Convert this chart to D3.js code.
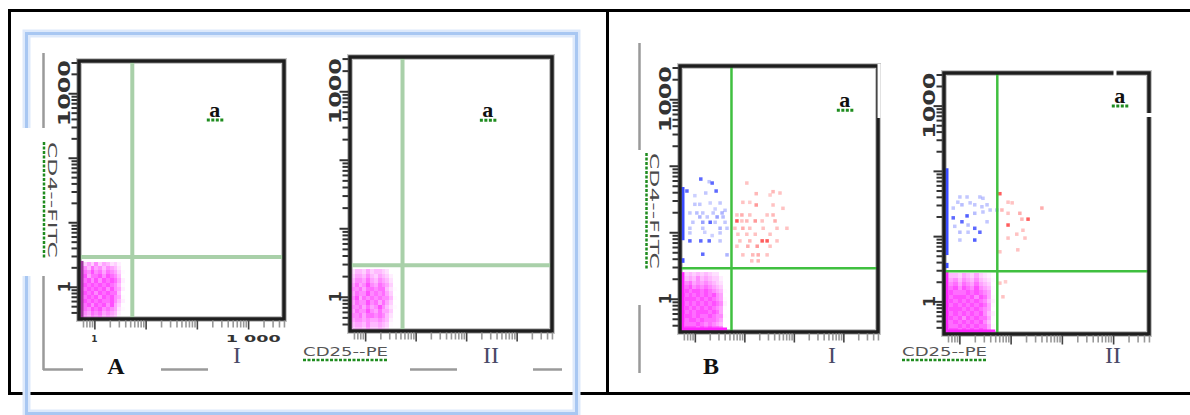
<!DOCTYPE html>
<html>
<head>
<meta charset="utf-8">
<script src="https://cdn.jsdelivr.net/npm/d3@7"></script>
<style>
  body { margin: 0; background: #fff; }
  svg { display: block; }
</style>
</head>
<body>
<div id="chart"></div>
<script>
// ---------- data (values are log10 fluorescence intensity) ----------
const panelNames = ["A", "B"];
const plotNumerals = ["I", "II", "I", "II"];
const quadrantTag = "a";
const xAxisTitle = "CD25--PE";
const yAxisTitle = "CD4--FITC";
const yTickText = [[0, "1"], [3, "1000"]];
const xTickText = [[0, "1"], [3.1, "1 000"]];
const decades = [-1, 0, 1, 2, 3];
const minorSteps = [1, 2, 3, 4, 5, 6, 7, 8, 9];
const xDomain = [-0.3, 3.7];
const yDomain = [-0.5, 3.5];
const gateX = 0.74, gateY = 0.46;

// double-negative cloud, density per cell (0-9), rows top -> bottom
const cloudExtents = [
  [[-0.30, 0.60], [-0.50, 0.38]],
  [[-0.28, 0.63], [-0.50, 0.40]],
  [[-0.28, 0.65], [-0.48, 0.40]],
  [[-0.28, 0.70], [-0.48, 0.43]]
];
const cloudAI = [
  "346474653420", "575867576530", "687978687641", "796889798750",
  "889797989862", "798989898751", "889898979762", "798979898850",
  "889897989761", "798989889752", "689798979640", "787989787631",
  "576878676520", "465767565410"
];
const cloudAII = [
  "355464554300", "466575465420", "577686576530", "686797687640",
  "778688788531", "687797878640", "796878787751", "687797868640",
  "778686797531", "687797686640", "778688787530", "677676676520",
  "566575565410", "455464454300"
];
const cloudBI = [
  "245454543300", "356575654420", "578676765430", "689787876540",
  "798998987651", "889898989760", "799989898761", "889898989872",
  "798989898761", "889899989860", "799898898771", "789989888760",
  "688898787650", "799989898870"
];
const cloudBII = [
  "355465464320", "467576575431", "578687686540", "689798797651",
  "798889898760", "889998979861", "798989898752", "889898989861",
  "799989898760", "889898989752", "798979898861", "689898989750",
  "788989898861", "699898989860"
];

// events piled on the axes: [from, to]
const leftPileMagenta = [[-0.5, 0.40], null, [-0.5, 0.40], [-0.5, 0.45]];
const bottomPileMagenta = [null, null, [-0.3, 0.65], [-0.3, 0.70]];
const leftPileBlue = [[], [], [[0.88, 1.68], [0.54, 0.61]], [[0.71, 2.04], [0.51, 0.59]]];

// CD4+ CD25- (blue) and CD4+ CD25+ (red) events: [x, y, weight]
const blueBI = [
  [0.12, 1.80, 0.8], [-0.16, 1.62, 0.8], [0.29, 1.76, 0.3], [0.35, 1.74, 0.8], [0.22, 1.59, 0.3],
  [0.43, 1.62, 0.8], [0.00, 1.42, 0.3], [0.10, 1.42, 0.3], [0.31, 1.44, 0.25], [0.51, 1.44, 0.3],
  [-0.10, 1.29, 0.3], [0.04, 1.29, 0.35], [0.16, 1.29, 0.3], [0.37, 1.29, 0.3], [0.55, 1.29, 0.4],
  [0.10, 1.23, 0.4], [0.25, 1.23, 0.3], [0.45, 1.23, 0.5], [0.57, 1.23, 0.35], [-0.04, 1.15, 0.3],
  [0.16, 1.15, 0.5], [0.31, 1.15, 0.8], [0.41, 1.15, 0.3], [0.61, 1.15, 0.3], [-0.10, 1.06, 0.3],
  [0.16, 1.06, 0.3], [0.51, 1.06, 0.4], [0.65, 1.06, 0.3], [-0.10, 0.99, 0.3], [0.51, 0.99, 0.3],
  [-0.10, 0.87, 0.8], [0.12, 0.87, 0.8], [0.29, 0.87, 0.8], [0.51, 0.87, 0.3], [0.16, 0.67, 0.8],
  [0.65, 0.66, 0.4], [0.00, 1.55, 0.25], [0.41, 1.35, 0.25], [0.61, 1.33, 0.3], [0.20, 1.00, 0.25],
  [0.35, 0.95, 0.25]
];
const redBI = [
  [1.05, 1.74, 0.3], [1.24, 1.58, 0.35], [1.58, 1.61, 0.35], [1.52, 1.56, 0.25], [1.72, 1.59, 0.3],
  [0.97, 1.45, 0.3], [1.11, 1.45, 0.25], [1.24, 1.41, 0.5], [1.58, 1.41, 0.3], [1.78, 1.36, 0.3],
  [0.85, 1.26, 0.3], [0.95, 1.26, 0.4], [1.11, 1.26, 0.3], [1.46, 1.26, 0.3], [1.58, 1.26, 0.35],
  [0.85, 1.17, 0.8], [0.95, 1.17, 0.3], [1.05, 1.17, 0.35], [1.22, 1.17, 0.5], [1.36, 1.17, 0.3],
  [1.62, 1.17, 0.4], [0.81, 1.06, 0.3], [0.97, 1.06, 0.4], [1.11, 1.06, 0.3], [1.38, 1.06, 0.3],
  [1.66, 1.06, 0.3], [1.86, 1.06, 0.3], [0.87, 0.97, 0.3], [1.05, 0.97, 0.3], [1.22, 0.97, 0.3],
  [1.52, 0.97, 0.3], [0.91, 0.87, 0.3], [1.11, 0.87, 0.35], [1.36, 0.87, 0.8], [1.46, 0.87, 0.8],
  [1.66, 0.87, 0.3], [0.85, 0.79, 0.3], [1.07, 0.79, 0.4], [1.26, 0.79, 0.5], [1.52, 0.79, 0.3],
  [0.97, 0.66, 0.3], [1.17, 0.66, 0.35], [1.28, 0.66, 0.4], [1.46, 0.66, 0.3], [1.15, 0.57, 0.3],
  [1.28, 0.57, 0.35]
];
const blueBII = [
  [0.01, 1.60, 0.3], [0.15, 1.60, 0.3], [0.40, 1.60, 0.3], [0.46, 1.58, 0.3], [-0.03, 1.52, 0.3],
  [0.05, 1.48, 0.35], [0.21, 1.51, 0.3], [0.30, 1.48, 0.3], [0.44, 1.45, 0.3], [0.54, 1.48, 0.3],
  [0.60, 1.40, 0.3], [0.73, 1.40, 0.3], [0.30, 1.35, 0.35], [0.46, 1.37, 0.3], [-0.12, 1.43, 0.3],
  [0.15, 1.31, 0.85], [-0.12, 1.28, 0.8], [0.05, 1.22, 0.8], [0.17, 1.17, 0.35], [0.30, 1.12, 0.8],
  [0.54, 1.22, 0.3], [0.01, 1.06, 0.35], [0.17, 1.06, 0.3], [0.40, 1.06, 0.8], [0.01, 0.94, 0.3],
  [0.30, 0.94, 0.85], [-0.09, 1.15, 0.3]
];
const redBII = [
  [0.79, 1.65, 0.8], [0.95, 1.52, 0.3], [1.03, 1.51, 0.3], [0.83, 1.40, 0.35], [0.95, 1.35, 0.3],
  [1.18, 1.35, 0.4], [1.22, 1.26, 0.35], [1.34, 1.26, 0.8], [0.95, 1.17, 0.8], [1.61, 1.43, 0.4],
  [1.24, 1.09, 0.3], [1.12, 1.03, 0.3], [0.95, 0.97, 0.3], [1.28, 0.97, 0.3], [1.14, 0.79, 0.3],
  [0.79, 0.76, 0.3], [0.85, 0.07, 0.3], [0.79, 0.28, 0.3], [0.90, 0.30, 0.25]
];

const clouds = [cloudAI, cloudAII, cloudBI, cloudBII];
const bluePoints = [[], [], blueBI, blueBII];
const redPoints = [[], [], redBI, redBII];

// ---------- layout ----------
const frames = [
  { x0: 79,  y0: 61, x1: 284,  y1: 319, panel: 0 },
  { x0: 350, y0: 57, x1: 552,  y1: 331, panel: 0 },
  { x0: 680, y0: 66, x1: 878,  y1: 332, panel: 1 },
  { x0: 944, y0: 73, x1: 1149, y1: 334, panel: 1 }
];
const gateStyle = [{ c: "#a9d0a9", w: 4 }, { c: "#40c040", w: 2.5 }];
const tagPos = [[2.35, 2.63], [2.43, 2.62], [3.03, 2.88], [3.13, 3.04]];
const numeralX = [237, 491, 832, 1113];
const green = "#1f8c1f";

const svg = d3.select("#chart").append("svg")
  .attr("width", 1190)
  .attr("height", 415);

// table border
svg.append("rect")
  .attr("x", 9.5).attr("y", 10.5).attr("width", 1190).attr("height", 383)
  .attr("fill", "none").attr("stroke", "#000").attr("stroke-width", 3);
svg.append("line")
  .attr("x1", 607.5).attr("x2", 607.5).attr("y1", 10).attr("y2", 394)
  .attr("stroke", "#000").attr("stroke-width", 3);

// panel A outline (light blue)
svg.append("rect")
  .attr("x", 26.5).attr("y", 33.5).attr("width", 550).attr("height", 380)
  .attr("fill", "none").attr("stroke", "#dde9fb").attr("stroke-width", 8);
svg.append("rect")
  .attr("x", 26.5).attr("y", 33.5).attr("width", 550).attr("height", 380)
  .attr("fill", "none").attr("stroke", "#a8c7f2").attr("stroke-width", 3);

// grey drawing lines
const greyLines = [
  [43.5, 53, 43.5, 370], [43, 369.5, 83, 369.5], [161, 369.5, 208, 369.5],
  [410, 369.5, 457, 369.5], [533, 369.5, 562, 369.5], [639.5, 43, 639.5, 373]
];
svg.selectAll(".grey").data(greyLines).enter().append("line")
  .attr("x1", d => d[0]).attr("y1", d => d[1]).attr("x2", d => d[2]).attr("y2", d => d[3])
  .attr("stroke", "#9a9a9a").attr("stroke-width", 2.5);

// white boxes behind the y titles
svg.append("rect").attr("x", 22).attr("y", 128).attr("width", 52).attr("height", 148).attr("fill", "#fff");
svg.append("rect").attr("x", 630).attr("y", 150).attr("width", 42).attr("height", 155).attr("fill", "#fff");

// axis titles
const yTitlePos = [[47.5, 142], [650, 153]];
yTitlePos.forEach(([px, py]) => {
  svg.append("line")
    .attr("x1", px - 3.5).attr("x2", px - 3.5).attr("y1", py).attr("y2", py + 116)
    .attr("stroke", green).attr("stroke-width", 2.5).attr("stroke-dasharray", "3,1.5");
  svg.append("text")
    .attr("transform", `translate(${px},${py}) rotate(90)`)
    .attr("textLength", 116).attr("lengthAdjust", "spacingAndGlyphs")
    .style("font-family", "DejaVu Sans").style("font-size", "13px")
    .style("fill", "#4a4a4a")
    .text(yAxisTitle);
});
const xTitlePos = [[303, 356], [902, 356]];
xTitlePos.forEach(([px, py]) => {
  svg.append("line")
    .attr("x1", px).attr("x2", px + 85).attr("y1", py + 4).attr("y2", py + 4)
    .attr("stroke", green).attr("stroke-width", 2.5).attr("stroke-dasharray", "3,1.5");
  svg.append("text")
    .attr("x", px).attr("y", py)
    .attr("textLength", 85).attr("lengthAdjust", "spacingAndGlyphs")
    .style("font-family", "DejaVu Sans").style("font-size", "12px")
    .style("fill", "#555")
    .text(xAxisTitle);
});

// the four dot plots
frames.forEach((f, i) => {
  const x = d3.scaleLinear().domain(xDomain).range([f.x0, f.x1]);
  const y = d3.scaleLinear().domain(yDomain).range([f.y1, f.y0]);
  const g = svg.append("g");

  // frame halo
  g.append("rect")
    .attr("x", f.x0).attr("y", f.y0).attr("width", f.x1 - f.x0).attr("height", f.y1 - f.y0)
    .attr("fill", "#fff").attr("stroke", "#c6c6c6").attr("stroke-width", 6);

  // density cells of the double negative population
  const grid = clouds[i], ext = cloudExtents[i];
  const nc = grid[0].length, nr = grid.length;
  const cw = (ext[0][1] - ext[0][0]) / nc, ch = (ext[1][1] - ext[1][0]) / nr;
  const cells = grid.flatMap((row, r) => row.split("").map((c, k) => ({ r, k, v: +c })))
    .filter(d => d.v > 0);
  g.selectAll(".cell").data(cells).enter().append("rect")
    .attr("x", d => x(ext[0][0] + d.k * cw))
    .attr("y", d => y(ext[1][1] - d.r * ch))
    .attr("width", d => x(ext[0][0] + (d.k + 1) * cw) - x(ext[0][0] + d.k * cw))
    .attr("height", d => y(ext[1][1] - (d.r + 1) * ch) - y(ext[1][1] - d.r * ch))
    .attr("fill", "#ff30ff")
    .attr("fill-opacity", d => Math.pow(d.v / 9, 1.6) * 0.85)
    .attr("shape-rendering", "crispEdges");

  // single events
  const dot = 3.5;
  g.selectAll(".blue").data(bluePoints[i]).enter().append("rect")
    .attr("x", d => x(d[0]) - dot / 2).attr("y", d => y(d[1]) - dot / 2)
    .attr("width", dot).attr("height", dot)
    .attr("fill", "#3444ff").attr("fill-opacity", d => d[2]);
  g.selectAll(".red").data(redPoints[i]).enter().append("rect")
    .attr("x", d => x(d[0]) - dot / 2).attr("y", d => y(d[1]) - dot / 2)
    .attr("width", dot).attr("height", dot)
    .attr("fill", "#ff3434").attr("fill-opacity", d => d[2]);

  // events piled on the axes
  const lp = leftPileMagenta[i];
  if (lp) {
    g.append("rect")
      .attr("x", f.x0 + 1.5).attr("y", y(lp[1])).attr("width", 3).attr("height", y(lp[0]) - y(lp[1]))
      .attr("fill", i === 0 ? "#a03ca0" : "#ff22ff");
  }
  const bp = bottomPileMagenta[i];
  if (bp) {
    g.append("rect")
      .attr("x", x(bp[0])).attr("y", f.y1 - 4.5).attr("width", x(bp[1]) - x(bp[0])).attr("height", 3)
      .attr("fill", "#ff22ff");
  }
  g.selectAll(".bpile").data(leftPileBlue[i]).enter().append("rect")
    .attr("x", f.x0 + 1.5).attr("y", d => y(d[1])).attr("width", 3)
    .attr("height", d => y(d[0]) - y(d[1]))
    .attr("fill", "#3a4cff");

  // quadrant gates
  const gs = gateStyle[f.panel];
  g.append("line")
    .attr("x1", x(gateX)).attr("x2", x(gateX)).attr("y1", f.y0).attr("y2", f.y1)
    .attr("stroke", gs.c).attr("stroke-width", gs.w);
  g.append("line")
    .attr("x1", f.x0).attr("x2", f.x1).attr("y1", y(gateY)).attr("y2", y(gateY))
    .attr("stroke", gs.c).attr("stroke-width", gs.w);

  // frame
  g.append("rect")
    .attr("x", f.x0).attr("y", f.y0).attr("width", f.x1 - f.x0).attr("height", f.y1 - f.y0)
    .attr("fill", "none").attr("stroke", "#1e1e1e").attr("stroke-width", 3.5);

  // log ticks
  const yTicks = decades.flatMap(d => minorSteps.map(k => d + Math.log10(k)))
    .filter(v => v >= yDomain[0] && v <= yDomain[1]);
  const xTicks = decades.flatMap(d => minorSteps.map(k => d + Math.log10(k)))
    .filter(v => v >= xDomain[0] && v <= xDomain[1]);

  g.append("g")
    .attr("transform", `translate(${f.x0 - 1.5},0)`)
    .call(d3.axisLeft(y).tickValues(yTicks).tickSize(6).tickFormat(""))
    .call(a => a.select(".domain").remove())
    .selectAll("line")
      .attr("x2", d => Number.isInteger(d) ? -9 : -6)
      .attr("stroke", "#333").attr("stroke-width", 2);

  g.append("g")
    .attr("transform", `translate(0,${f.y1 + 1.5})`)
    .call(d3.axisBottom(x).tickValues(xTicks).tickSize(7).tickFormat(""))
    .call(a => a.select(".domain").remove())
    .selectAll("line")
      .attr("y2", d => Number.isInteger(d) ? 9 : 7)
      .attr("stroke", d => Number.isInteger(d) ? "#444" : "#999")
      .attr("stroke-width", 1.6);

  // tick labels
  yTickText.forEach(([v, t]) => {
    const txt = g.append("text")
      .attr("transform", `translate(${f.x0 - 9},${y(v)}) rotate(-90)`)
      .attr("text-anchor", "middle")
      .style("font-family", "DejaVu Sans").style("font-weight", "bold")
      .style("font-size", "16px").style("fill", "#333")
      .text(t);
    if (t.length > 1) txt.attr("textLength", 66).attr("lengthAdjust", "spacingAndGlyphs");
  });
  if (i === 0) {
    xTickText.forEach(([v, t]) => {
      const txt = g.append("text")
        .attr("x", x(v)).attr("y", f.y1 + 23)
        .attr("text-anchor", "middle")
        .style("font-family", "DejaVu Sans").style("font-weight", "bold")
        .style("font-size", "9px").style("fill", "#333")
        .text(t);
      if (t.length > 1) txt.attr("textLength", 55).attr("lengthAdjust", "spacingAndGlyphs");
    });
  }

  // quadrant tag "a"
  const tx = x(tagPos[i][0]), ty = y(tagPos[i][1]);
  g.append("line")
    .attr("x1", tx - 8).attr("x2", tx + 10).attr("y1", ty + 3).attr("y2", ty + 3)
    .attr("stroke", green).attr("stroke-width", 3).attr("stroke-dasharray", "3,1.5");
  g.append("text")
    .attr("x", tx).attr("y", ty)
    .attr("text-anchor", "middle")
    .style("font-family", "Liberation Serif").style("font-weight", "bold")
    .style("font-size", "22px").style("fill", "#111")
    .text(quadrantTag);

  // plot numeral
  svg.append("text")
    .attr("x", numeralX[i]).attr("y", 363)
    .attr("text-anchor", "middle")
    .style("font-family", "Liberation Serif").style("font-size", "24px")
    .style("fill", "#4a4a66")
    .text(plotNumerals[i]);
});

// white edges of the tag text boxes crossing the frames in panel B
svg.append("line").attr("x1", 879).attr("x2", 879).attr("y1", 64).attr("y2", 118)
  .attr("stroke", "#fff").attr("stroke-width", 3);
svg.append("line").attr("x1", 1115).attr("x2", 1115).attr("y1", 70).attr("y2", 76)
  .attr("stroke", "#fff").attr("stroke-width", 3);
svg.append("line").attr("x1", 1146).attr("x2", 1153).attr("y1", 115).attr("y2", 115)
  .attr("stroke", "#fff").attr("stroke-width", 4);

// panel letters
const panelLetterX = [116, 711];
panelNames.forEach((p, i) => {
  svg.append("text")
    .attr("x", panelLetterX[i]).attr("y", 374)
    .attr("text-anchor", "middle")
    .style("font-family", "Liberation Serif").style("font-weight", "bold")
    .style("font-size", "24px").style("fill", "#111")
    .text(p);
});
</script>
</body>
</html>
